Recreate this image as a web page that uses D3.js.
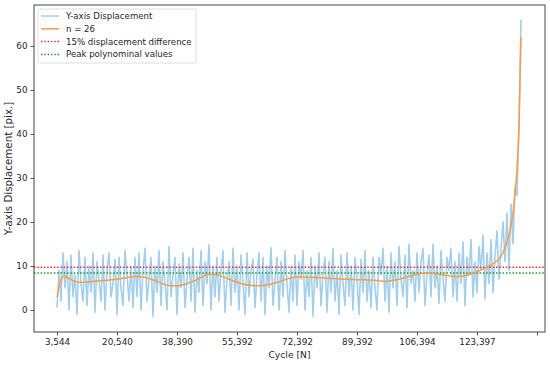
<!DOCTYPE html>
<html>
<head>
<meta charset="utf-8">
<script src="https://cdn.jsdelivr.net/npm/d3@7"></script>
<style>
  body { margin: 0; background: #fff; }
  text { font-family: "DejaVu Sans", sans-serif; fill: #262626; }
</style>
</head>
<body>
<div id="vis"></div>
<script>
// x tick labels (cycle numbers), one every 30 samples
var cycleLabels = ["3,544", "20,540", "38,390", "55,392", "72,392", "89,392", "106,394", "123,397", ""];
var yTicks = [0, 10, 20, 30, 40, 50, 60];

// measured displacement, one value per sample
var displacement = [
  0.5, 9, 2, 13, 5, 11, 0, 12.5, 3, 8, -1, 13.5, 6, 2, 12, 1, 10, 4, 13, -0.5,
  11, 7, 2, 12.5, 0, 9, 13, 3, 6, 11.5, -1, 12, 5, 1, 13.5, 8, 2, 10, 0.5, 12,
  3, 13, 0, 9, 14, 2, 7, 12, -1.5, 10, 4, 13.5, 1, 11, 6, 0, 14.5, 3, 8, 12,
  -1, 10.5, 5, 13, 0.5, 7, 12, 2, 14, -0.5, 9, 4, 13.5, 1, 11, 6, 14.8, 0, 10, 3,
  12, 2, 9, 13.5, -0.5, 7, 11, 1, 14, 4, 10, 0, 12.5, 6, -1, 13, 3, 9, 11.5, 0.5,
  8, 13, 2, 12, -1, 10, 5, 14.2, 1, 7, 12, 0, 11, 3, 13.5, 6, -0.5, 10, 2, 12.5,
  1, 11, 7, 13.5, 0, 9, 3, 12, -1.5, 10, 5, 13, 1, 8, 12, -0.5, 11, 4, 14, 2,
  9, -1, 12.5, 6, 1, 13, 3, 10, 0, 12, 7, -1, 11.5, 4, 13.5, 2, 9, 0.5, 12, 5,
  0, 12, 8, 14, 2, 10, -0.5, 13, 5, 11, 1, 14.5, 7, 3, 12.5, 0.5, 15, 6, 9, 2,
  13, 4, 11, 14, 1, 8, 12.5, 3, 15, 5, 10, 1.5, 13.5, 7, 2, 12, 9, 14, 3, 11,
  2, 13, 6, 15.5, 1, 12, 8, 16, 3, 11, 4, 14.5, 9, 17, 2.5, 13,
  6, 16, 4, 12, 18, 7, 14, 20, 11, 22, 9, 24, 15,
  28, 26, 42, 66
];

// polynomial fit (n = 26), read at these sample indices
var fitIndex = [0, 2, 3, 5, 9, 12, 20, 30, 40, 45, 50, 57, 60, 65, 70, 76, 80, 85, 90, 99,
  105, 110, 120, 130, 140, 150, 160, 164, 170, 175, 180, 185, 190, 197, 200, 205, 210,
  214, 216, 220, 223, 226, 228, 229, 230, 231, 232];
var fitValue = [3.0, 7.0, 7.6, 7.4, 6.5, 6.3, 6.6, 7.0, 7.6, 7.3, 6.5, 5.5, 5.5, 6.0, 6.9, 8.1, 8.0, 7.2, 6.3, 5.5,
  5.7, 6.3, 7.5, 7.4, 7.1, 6.9, 6.7, 6.5, 6.9, 7.5, 8.1, 8.4, 8.2, 7.7, 7.6, 7.9, 8.7,
  9.5, 10.0, 11.2, 13.0, 17.0, 22.0, 26.5, 32.0, 42.0, 62.0];

// threshold lines
var thresholdNames = ["15% displacement difference", "Peak polynominal values"];
var thresholdValues = [9.7, 8.4];

var width = 550;
var height = 365;
var margin = {top: 5, left: 34, bottom: 33, right: 5};

var svg = d3.select("#vis").append("svg")
  .attr("width", width)
  .attr("height", height);

// sample index -> pixel; one tick every 30 samples
var x = d3.scaleLinear()
  .domain([-11.5, 244])
  .range([margin.left, width - margin.right]);

var y = d3.scaleLinear()
  .domain([-5, 69.3])
  .range([height - margin.bottom, margin.top]);

var colors = {
  raw: "#a3cfe9",
  fit: "#fd9a45",
  red: "#ee2a2a",
  green: "#1a9a2a"
};

// axes
var xAxis = d3.axisBottom(x)
  .tickValues(cycleLabels.map(function(d, i) { return i * 30; }))
  .tickFormat(function(d, i) { return cycleLabels[i]; })
  .tickSize(3.5)
  .tickPadding(3);

var yAxis = d3.axisLeft(y)
  .tickValues(yTicks)
  .tickSize(3.5)
  .tickPadding(3);

var gx = svg.append("g")
  .attr("transform", "translate(0," + (height - margin.bottom) + ")")
  .call(xAxis);

var gy = svg.append("g")
  .attr("transform", "translate(" + margin.left + ",0)")
  .call(yAxis);

[gx, gy].forEach(function(g) {
  g.select(".domain").remove();
  g.selectAll("line").attr("stroke", "#444").attr("stroke-width", 0.9);
  g.selectAll("text")
    .style("font-family", "DejaVu Sans")
    .style("font-size", "8.8px")
    .attr("fill", "#262626");
});

// raw displacement
var line = d3.line()
  .x(function(d, i) { return x(i); })
  .y(function(d) { return y(d); });

svg.append("path")
  .datum(displacement)
  .attr("fill", "none")
  .attr("stroke", colors.raw)
  .attr("stroke-width", 1.6)
  .attr("stroke-linejoin", "round")
  .attr("d", line);

// threshold lines
svg.selectAll(".threshold")
  .data(thresholdValues)
  .enter().append("line")
  .attr("class", "threshold")
  .attr("x1", margin.left)
  .attr("x2", width - margin.right)
  .attr("y1", function(d) { return y(d); })
  .attr("y2", function(d) { return y(d); })
  .attr("stroke", function(d, i) { return i == 0 ? colors.red : colors.green; })
  .attr("stroke-width", 1.5)
  .attr("stroke-dasharray", "1.5,1.8");

// polynomial fit
var fitLine = d3.line()
  .curve(d3.curveMonotoneX)
  .x(function(d) { return x(d); })
  .y(function(d, i) { return y(fitValue[i]); });

svg.append("path")
  .datum(fitIndex)
  .attr("fill", "none")
  .attr("stroke", colors.fit)
  .attr("stroke-width", 1.5)
  .attr("d", fitLine);

// frame
svg.append("rect")
  .attr("x", margin.left)
  .attr("y", margin.top)
  .attr("width", width - margin.left - margin.right)
  .attr("height", height - margin.top - margin.bottom)
  .attr("fill", "none")
  .attr("stroke", "#444")
  .attr("stroke-width", 1);

// axis labels
svg.append("text")
  .attr("x", (margin.left + width - margin.right) / 2)
  .attr("y", 358)
  .attr("text-anchor", "middle")
  .style("font-size", "9.2px")
  .text("Cycle [N]");

svg.append("text")
  .attr("transform", "translate(12," + ((margin.top + height - margin.bottom) / 2) + ") rotate(-90)")
  .attr("text-anchor", "middle")
  .style("font-size", "10.3px")
  .text("Y-axis Displacement [pix.]");

// legend
var legendItems = [
  {name: "Y-axis Displacement", color: colors.raw, dash: null},
  {name: "n = 26", color: colors.fit, dash: null},
  {name: thresholdNames[0], color: colors.red, dash: "1.5,1.8"},
  {name: thresholdNames[1], color: colors.green, dash: "1.5,1.8"}
];

var legend = svg.append("g")
  .attr("transform", "translate(38,9)");

legend.append("rect")
  .attr("width", 158)
  .attr("height", 54)
  .attr("rx", 2)
  .attr("fill", "#fff")
  .attr("fill-opacity", 0.8)
  .attr("stroke", "#d6d6d6")
  .attr("stroke-width", 0.8);

var entry = legend.selectAll(".entry")
  .data(legendItems)
  .enter().append("g")
  .attr("class", "entry")
  .attr("transform", function(d, i) { return "translate(0," + (7 + i * 12.8) + ")"; });

entry.append("line")
  .attr("x1", 3)
  .attr("x2", 21)
  .attr("stroke", function(d) { return d.color; })
  .attr("stroke-width", 1.5)
  .attr("stroke-dasharray", function(d) { return d.dash; });

entry.append("text")
  .attr("x", 28)
  .attr("dy", "0.34em")
  .style("font-size", "8.6px")
  .text(function(d) { return d.name; });
</script>
</body>
</html>
